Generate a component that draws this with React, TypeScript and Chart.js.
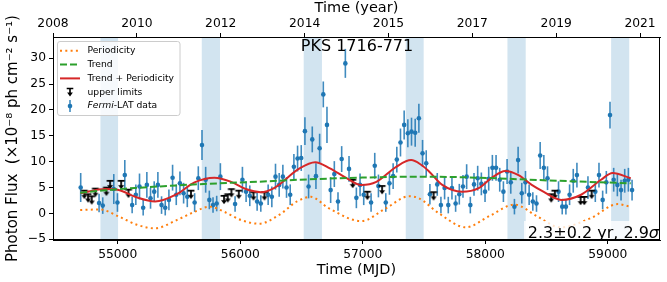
import React, { useEffect, useRef } from 'react';
import { Chart, registerables } from 'chart.js';

Chart.register(...registerables);

const FONT = "'DejaVu Sans', sans-serif";

const X_MIN = 54472;
const X_MAX = 59426;
const Y_MIN = -5.15;
const Y_MAX = 34.1;

const MJD_TICKS = [55000, 56000, 57000, 58000, 59000];
const YEAR_TICK_MJD = [54472, 55157, 55841, 56526, 57210, 57894, 58579, 59263];
const YEAR_LABELS = ['2008', '2010', '2012', '2014', '2015', '2017', '2019', '2021'];
const Y_TICKS = [-5, 0, 5, 10, 15, 20, 25, 30];

const BAND_START = [54859, 55686, 56518, 57351, 58181, 59027];
const BAND_END = [55003, 55835, 56667, 57497, 58330, 59175];

const PERIOD_MJD = [54694, 54856, 55008, 55157, 55303, 55481, 55627, 55749, 55870, 56008, 56154, 56317, 56463, 56576, 56722, 56990, 57184, 57379, 57460, 57622, 57841, 58035, 58238, 58425, 58611, 58863, 59082, 59179];
const PERIOD_FLUX = [0.66, 0.75, -0.6, -2.2, -2.9, -1.3, 0.3, 1.3, 0.3, -1.3, -2.0, -0.3, 2.3, 3.2, 1.0, -1.5, 0.9, 3.3, 2.9, 0.0, -2.7, -0.5, 1.7, -0.6, -2.7, -0.9, 1.8, 1.3];

const TREND_MJD = [54694, 54873, 55140, 55481, 55813, 56138, 56478, 56965, 57476, 57938, 58474, 58831, 59187];
const TREND_FLUX = [4.0, 4.4, 4.9, 5.4, 5.8, 6.1, 6.5, 6.9, 7.1, 6.9, 6.4, 6.1, 5.8];

const FIT_MJD = [54697, 54899, 55008, 55143, 55305, 55481, 55627, 55789, 55925, 56046, 56168, 56276, 56478, 56611, 56732, 56868, 56989, 57111, 57273, 57395, 57476, 57541, 57649, 57811, 57946, 58054, 58163, 58271, 58379, 58474, 58620, 58782, 58945, 59039, 59187];
const FIT_FLUX = [3.9, 4.7, 4.5, 3.2, 2.3, 3.7, 6.0, 6.9, 6.1, 4.7, 4.1, 4.9, 8.6, 9.9, 8.7, 6.8, 5.5, 6.1, 9.0, 10.3, 9.4, 8.1, 5.5, 4.2, 4.9, 6.9, 8.2, 7.4, 5.5, 4.2, 2.6, 3.6, 6.5, 7.8, 6.8];

const DET_MJD = [54698, 54848, 54878, 54968, 54998, 55058, 55118, 55148, 55178, 55208, 55238, 55268, 55298, 55328, 55358, 55388, 55418, 55448, 55478, 55508, 55538, 55568, 55628, 55658, 55688, 55718, 55748, 55778, 55808, 55838, 55958, 56018, 56048, 56078, 56138, 56168, 56228, 56258, 56288, 56318, 56348, 56378, 56408, 56438, 56468, 56498, 56528, 56558, 56588, 56618, 56648, 56678, 56708, 56738, 56768, 56798, 56828, 56858, 56888, 56948, 56978, 57008, 57068, 57098, 57128, 57188, 57218, 57248, 57278, 57308, 57338, 57368, 57398, 57428, 57458, 57488, 57518, 57548, 57608, 57638, 57668, 57698, 57728, 57758, 57788, 57818, 57848, 57878, 57908, 57938, 57968, 57998, 58028, 58058, 58088, 58118, 58148, 58178, 58208, 58238, 58268, 58298, 58328, 58358, 58388, 58418, 58448, 58478, 58508, 58598, 58628, 58658, 58688, 58718, 58748, 58838, 58898, 58928, 58958, 58988, 59018, 59048, 59078, 59108, 59138, 59168, 59198];
const DET_FLUX = [5.0, 2.0, 1.5, 4.7, 2.1, 7.4, 1.6, 3.6, 5.2, 1.1, 5.5, 2.9, 4.2, 5.5, 1.6, 1.1, 2.6, 6.9, 3.6, 5.8, 3.9, 3.2, 2.1, 6.8, 13.2, 6.5, 2.6, 1.6, 1.9, 7.1, 1.8, 6.5, 4.2, 3.4, 2.3, 1.9, 3.6, 3.2, 7.1, 5.5, 7.1, 5.0, 3.6, 9.0, 10.6, 10.7, 15.9, 5.2, 14.3, 7.2, 12.6, 23.0, 17.1, 4.5, 7.6, 2.3, 10.5, 29.0, 8.6, 3.0, 5.5, 3.6, 2.1, 9.2, 5.3, 2.1, 5.8, 7.2, 10.4, 13.7, 17.1, 15.5, 15.8, 15.6, 18.4, 11.6, 9.7, 3.7, 5.6, 1.6, 4.9, 1.6, 4.9, 1.9, 3.7, 5.2, 7.1, 1.6, 5.6, 6.8, 5.7, 4.2, 6.7, 8.8, 8.8, 6.5, 4.2, 8.1, 6.0, 1.3, 10.3, 3.9, 6.0, 3.6, 2.3, 1.9, 11.2, 8.8, 6.8, 4.2, 1.3, 1.3, 3.6, 6.3, 7.4, 5.0, 4.2, 7.4, 2.6, 6.0, 19.0, 6.5, 5.5, 4.5, 6.3, 6.5, 4.5];
const DET_ERR = [2.8, 1.8, 1.6, 2.9, 1.8, 2.9, 1.6, 2.0, 2.5, 1.5, 2.5, 2.0, 2.0, 2.5, 1.7, 1.5, 2.0, 2.5, 2.0, 2.3, 2.0, 2.0, 1.8, 2.3, 2.9, 2.5, 1.8, 1.5, 1.5, 2.6, 1.5, 2.5, 2.0, 2.0, 1.8, 1.6, 2.0, 2.0, 2.5, 2.3, 2.3, 2.0, 2.0, 2.5, 2.5, 2.5, 2.7, 2.3, 2.5, 2.5, 2.8, 2.5, 3.5, 2.5, 2.5, 1.8, 2.5, 2.8, 2.5, 2.0, 2.2, 2.0, 1.8, 2.5, 2.2, 1.8, 2.2, 2.5, 2.5, 2.7, 2.8, 2.7, 2.7, 2.7, 2.8, 2.6, 2.5, 2.0, 2.2, 1.6, 2.2, 1.6, 2.2, 1.6, 2.0, 2.2, 2.4, 1.6, 2.2, 2.4, 2.2, 2.0, 2.3, 2.5, 2.5, 2.3, 2.0, 2.4, 2.2, 1.5, 2.6, 2.0, 2.2, 2.0, 1.8, 1.6, 2.6, 2.5, 2.3, 2.0, 1.5, 1.5, 2.0, 2.3, 2.4, 2.2, 2.0, 2.4, 1.8, 2.2, 2.6, 2.3, 2.2, 2.0, 2.3, 2.3, 2.0];

const UL_MJD = [54728, 54758, 54788, 54818, 54908, 54938, 55028, 55088, 55598, 55868, 55898, 55928, 55988, 56108, 56198, 56918, 57038, 57158, 57578, 58538, 58568, 58778, 58808, 58868];
const UL_FLUX = [3.6, 2.9, 2.5, 4.0, 4.2, 5.5, 5.5, 3.8, 3.6, 2.6, 2.9, 3.9, 3.6, 3.3, 3.3, 5.7, 3.4, 4.5, 3.3, 2.9, 3.6, 2.4, 2.4, 3.6];

const BLUE = '#1f77b4';
const ORANGE = '#ff7f0e';
const GREEN = '#2ca02c';
const RED = '#d62728';

function drawUL(ctx: CanvasRenderingContext2D, x: number, y: number, s: number) {
  ctx.save();
  ctx.strokeStyle = '#000';
  ctx.fillStyle = '#000';
  ctx.lineWidth = 1.5 * s;
  ctx.beginPath();
  ctx.moveTo(x - 3 * s, y - 3.5 * s);
  ctx.lineTo(x + 3 * s, y - 3.5 * s);
  ctx.moveTo(x, y - 3.5 * s);
  ctx.lineTo(x, y + 1 * s);
  ctx.stroke();
  ctx.beginPath();
  ctx.moveTo(x - 2.6 * s, y + 0.2 * s);
  ctx.lineTo(x + 2.6 * s, y + 0.2 * s);
  ctx.lineTo(x, y + 3.8 * s);
  ctx.closePath();
  ctx.fill();
  ctx.restore();
}

function makeULImage(): HTMLCanvasElement {
  const c = document.createElement('canvas');
  c.width = 12;
  c.height = 12;
  const g = c.getContext('2d')!;
  drawUL(g, 6, 6, 1.15);
  return c;
}

const overlayPlugin = {
  id: 'overlay',
  beforeDatasetsDraw(chart: any) {
    const { ctx, chartArea: a, scales } = chart;
    const xs = scales.x;
    const ys = scales.y;
    ctx.save();
    ctx.beginPath();
    ctx.rect(a.left, a.top, a.right - a.left, a.bottom - a.top);
    ctx.clip();
    ctx.fillStyle = 'rgba(31,119,180,0.2)';
    BAND_START.forEach((s, i) => {
      const x0 = xs.getPixelForValue(s);
      const x1 = xs.getPixelForValue(BAND_END[i]);
      ctx.fillRect(x0, a.top, x1 - x0, a.bottom - a.top);
    });
    ctx.strokeStyle = 'rgba(31,119,180,0.85)';
    ctx.lineWidth = 1.6;
    DET_MJD.forEach((m, i) => {
      const px = xs.getPixelForValue(m);
      ctx.beginPath();
      ctx.moveTo(px, ys.getPixelForValue(DET_FLUX[i] - DET_ERR[i]));
      ctx.lineTo(px, ys.getPixelForValue(DET_FLUX[i] + DET_ERR[i]));
      ctx.stroke();
    });
    ctx.restore();
  },
  afterDraw(chart: any) {
    const { ctx, chartArea: a } = chart;
    ctx.save();
    ctx.fillStyle = 'rgba(255,255,255,0.8)';
    ctx.fillRect(524, 221, a.right - 524 - 1, a.bottom - 221);
    ctx.strokeStyle = '#000';
    ctx.lineWidth = 1;
    ctx.strokeRect(Math.round(a.left) + 0.5, Math.round(a.top) + 0.5, Math.round(a.right - a.left) - 1, Math.round(a.bottom - a.top) - 1);

    ctx.fillStyle = '#000';
    ctx.font = `16px ${FONT}`;
    ctx.textAlign = 'center';
    ctx.textBaseline = 'middle';
    ctx.fillText('PKS 1716-771', 357, 47);

    ctx.textAlign = 'left';
    ctx.textBaseline = 'alphabetic';
    const t1 = '2.3\u00b10.2 yr, 2.9';
    ctx.font = `italic 16px ${FONT}`;
    const wSig = ctx.measureText('\u03c3').width;
    ctx.font = `16px ${FONT}`;
    const w1 = ctx.measureText(t1).width;
    const xEnd = 659;
    ctx.fillText(t1, xEnd - wSig - w1, 238);
    ctx.font = `italic 16px ${FONT}`;
    ctx.fillText('\u03c3', xEnd - wSig, 238);

    const lx = 57.5, ly = 41.5, lw = 122.5, lh = 74;
    ctx.beginPath();
    const r = 2.5;
    ctx.moveTo(lx + r, ly);
    ctx.arcTo(lx + lw, ly, lx + lw, ly + lh, r);
    ctx.arcTo(lx + lw, ly + lh, lx, ly + lh, r);
    ctx.arcTo(lx, ly + lh, lx, ly, r);
    ctx.arcTo(lx, ly, lx + lw, ly, r);
    ctx.closePath();
    ctx.fillStyle = 'rgba(255,255,255,0.8)';
    ctx.fill();
    ctx.strokeStyle = '#cccccc';
    ctx.lineWidth = 1;
    ctx.stroke();

    const rows = [50.7, 64.5, 78.4, 92.3, 106.1];
    const hx0 = 60, hx1 = 80, tx = 87.5;
    ctx.lineWidth = 2;
    ctx.strokeStyle = ORANGE;
    ctx.setLineDash([2, 3.3]);
    ctx.beginPath(); ctx.moveTo(hx0, rows[0]); ctx.lineTo(hx1, rows[0]); ctx.stroke();
    ctx.strokeStyle = GREEN;
    ctx.setLineDash([7, 3]);
    ctx.beginPath(); ctx.moveTo(hx0, rows[1]); ctx.lineTo(hx1, rows[1]); ctx.stroke();
    ctx.setLineDash([]);
    ctx.strokeStyle = RED;
    ctx.beginPath(); ctx.moveTo(hx0, rows[2]); ctx.lineTo(hx1, rows[2]); ctx.stroke();
    drawUL(ctx, 70, rows[3], 1.1);
    ctx.strokeStyle = 'rgba(31,119,180,0.85)';
    ctx.lineWidth = 1.6;
    ctx.beginPath(); ctx.moveTo(70, rows[4] - 6); ctx.lineTo(70, rows[4] + 6); ctx.stroke();
    ctx.fillStyle = BLUE;
    ctx.beginPath(); ctx.arc(70, rows[4], 2.3, 0, Math.PI * 2); ctx.fill();

    ctx.fillStyle = '#000';
    ctx.textBaseline = 'middle';
    ctx.font = `9.2px ${FONT}`;
    ctx.fillText('Periodicity', tx, rows[0]);
    ctx.fillText('Trend', tx, rows[1]);
    ctx.fillText('Trend + Periodicity', tx, rows[2]);
    ctx.fillText('upper limits', tx, rows[3]);
    ctx.font = `italic 9.2px ${FONT}`;
    ctx.fillText('Fermi', tx, rows[4]);
    const wf = ctx.measureText('Fermi').width;
    ctx.font = `9.2px ${FONT}`;
    ctx.fillText('-LAT data', tx + wf, rows[4]);
    ctx.restore();
  },
};

const fmt = (v: number) => (v < 0 ? '\u2212' + Math.abs(v) : String(v));

export default function App() {
  const ref = useRef<HTMLCanvasElement>(null);
  useEffect(() => {
    document.body.style.margin = '0';
    const ulImg = makeULImage();
    const tickFont = { family: FONT, size: 12.3 };
    const titleFont = { family: FONT, size: 14.5 };
    const chart = new Chart(ref.current!, {
      type: 'scatter',
      data: {
        datasets: [
          {
            type: 'line',
            label: 'Periodicity',
            data: PERIOD_MJD.map((x, i) => ({ x, y: PERIOD_FLUX[i] })),
            borderColor: ORANGE,
            borderWidth: 2,
            borderDash: [2, 3.3],
            pointRadius: 0,
            cubicInterpolationMode: 'monotone',
            fill: false,
            order: 0,
          },
          {
            type: 'line',
            label: 'Trend',
            data: TREND_MJD.map((x, i) => ({ x, y: TREND_FLUX[i] })),
            borderColor: GREEN,
            borderWidth: 2,
            borderDash: [7, 3],
            pointRadius: 0,
            cubicInterpolationMode: 'monotone',
            fill: false,
            order: 0,
          },
          {
            type: 'line',
            label: 'Trend + Periodicity',
            data: FIT_MJD.map((x, i) => ({ x, y: FIT_FLUX[i] })),
            borderColor: RED,
            borderWidth: 2,
            pointRadius: 0,
            cubicInterpolationMode: 'monotone',
            fill: false,
            order: 0,
          },
          {
            type: 'scatter',
            label: 'upper limits',
            data: UL_MJD.map((x, i) => ({ x, y: UL_FLUX[i] })),
            pointStyle: ulImg as any,
            pointRadius: 6,
            order: 1,
          },
          {
            type: 'scatter',
            label: 'Fermi-LAT data',
            data: DET_MJD.map((x, i) => ({ x, y: DET_FLUX[i] })),
            backgroundColor: BLUE,
            borderWidth: 0,
            pointRadius: 2.3,
            order: 1,
          },
        ] as any,
      },
      options: {
        animation: false,
        responsive: false,
        events: [],
        layout: { padding: { left: 0, right: 5, top: 0, bottom: 0 } },
        plugins: { legend: { display: false }, tooltip: { enabled: false } },
        scales: {
          x: {
            type: 'linear',
            position: 'bottom',
            min: X_MIN,
            max: X_MAX,
            afterBuildTicks: (s: any) => { s.ticks = MJD_TICKS.map((v) => ({ value: v })); },
            afterFit: (s: any) => { s.height = 42; },
            grid: { drawOnChartArea: false, drawTicks: true, tickLength: 4, color: '#000' },
            border: { display: true, color: '#000', width: 1 },
            ticks: { color: '#000', font: tickFont, padding: 3, maxRotation: 0, autoSkip: false, callback: (v: any) => String(v) },
            title: { display: true, text: 'Time (MJD)', color: '#000', font: titleFont, padding: { top: 0, bottom: 3 } },
          },
          x2: {
            type: 'linear',
            position: 'top',
            min: X_MIN,
            max: X_MAX,
            afterBuildTicks: (s: any) => { s.ticks = YEAR_TICK_MJD.map((v) => ({ value: v })); },
            afterFit: (s: any) => { s.height = 37; },
            grid: { drawOnChartArea: false, drawTicks: true, tickLength: 4, color: '#000' },
            border: { display: true, color: '#000', width: 1 },
            ticks: { color: '#000', font: tickFont, padding: 2, maxRotation: 0, autoSkip: false, callback: (_v: any, i: number) => YEAR_LABELS[i] },
            title: { display: true, text: 'Time (year)', color: '#000', font: titleFont, padding: { top: 0, bottom: 0 } },
          },
          y: {
            type: 'linear',
            position: 'left',
            min: Y_MIN,
            max: Y_MAX,
            afterBuildTicks: (s: any) => { s.ticks = Y_TICKS.map((v) => ({ value: v })); },
            afterFit: (s: any) => { s.width = 53; },
            grid: { drawOnChartArea: false, drawTicks: true, tickLength: 4, color: '#000' },
            border: { display: true, color: '#000', width: 1 },
            ticks: { color: '#000', font: tickFont, padding: 3, autoSkip: false, callback: (v: any) => fmt(v) },
            title: { display: true, text: 'Photon Flux  (\u00d710\u207b\u2078 ph cm\u207b\u00b2 s\u207b\u00b9)', color: '#000', font: { family: FONT, size: 15 }, padding: { top: 4, bottom: 0 } },
          },
        },
      } as any,
      plugins: [overlayPlugin],
    });
    return () => chart.destroy();
  }, []);
  return (
    <div style={{ position: 'absolute', left: 0, top: 0, width: 667, height: 282 }}>
      <canvas ref={ref} width={667} height={282} style={{ width: 667, height: 282, display: 'block' }} />
    </div>
  );
}
